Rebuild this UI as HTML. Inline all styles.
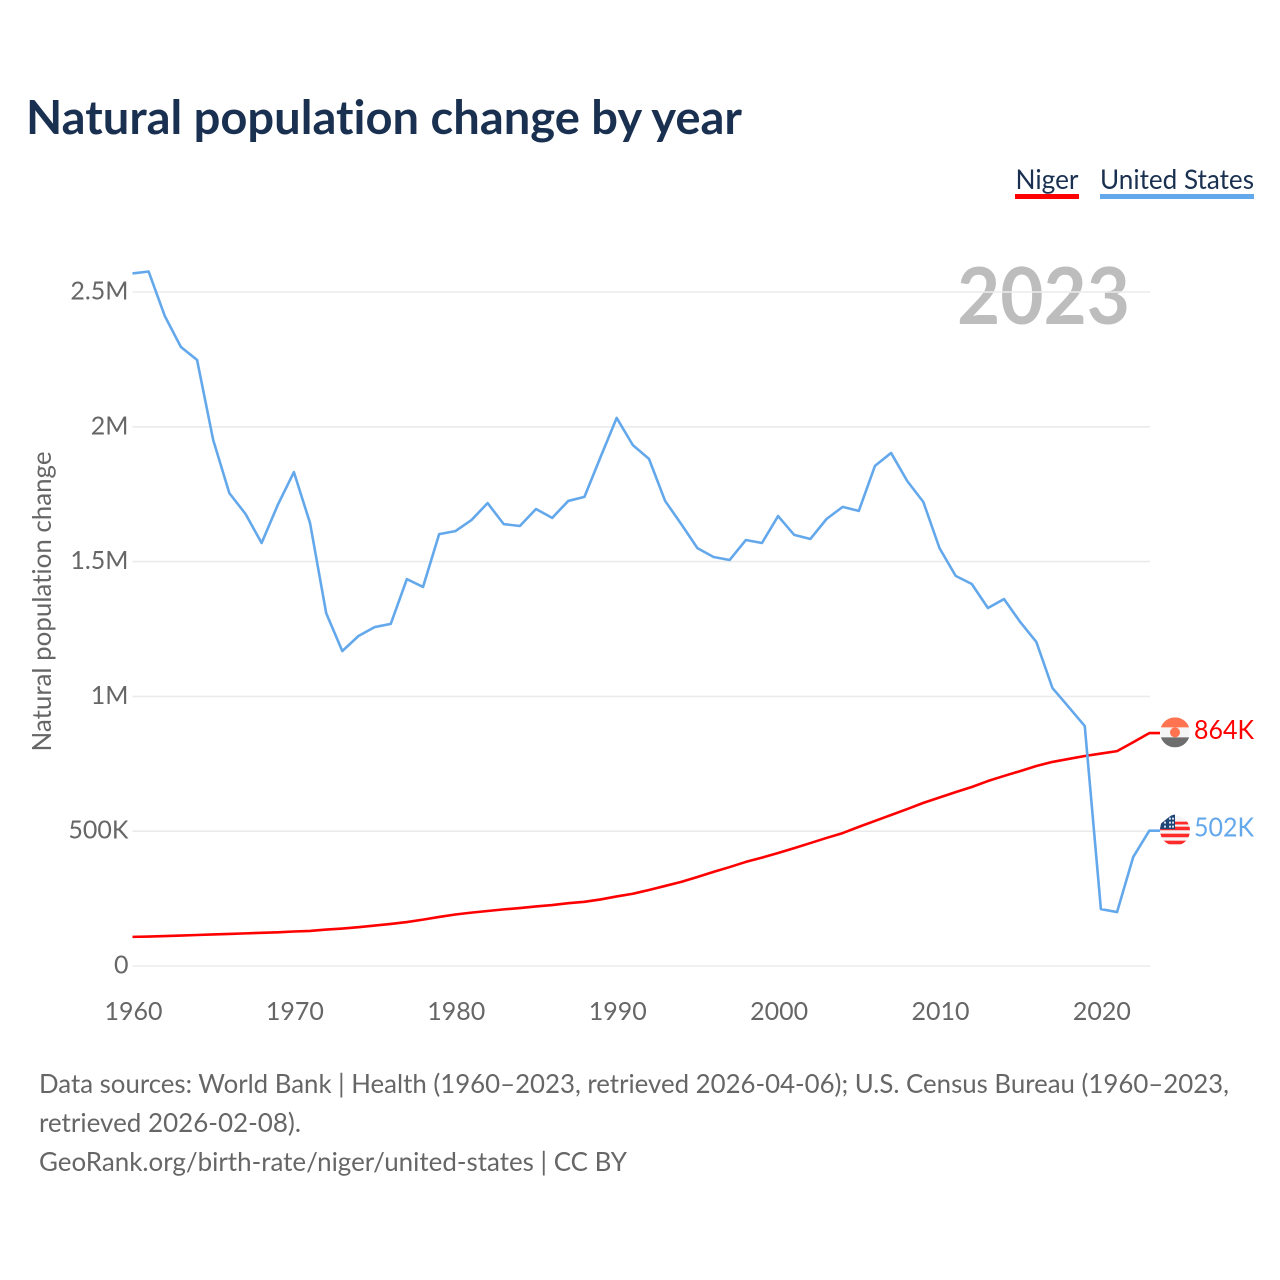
<!DOCTYPE html>
<html lang="en">
<head>
<meta charset="utf-8">
<title>Natural population change by year</title>
<style>
html,body{margin:0;padding:0;background:#fff;width:1280px;height:1280px;overflow:hidden}
svg{display:block}
text{font-family:"Lato","Carlito","Liberation Sans",sans-serif;font-variant-ligatures:none;font-feature-settings:"liga" 0}
</style>
</head>
<body>
<svg id="chart" xmlns="http://www.w3.org/2000/svg" width="1280" height="1280" viewBox="0 0 1280 1280">
  <defs>
    <clipPath id="flag-clip-niger"><circle cx="0" cy="0" r="15"/></clipPath>
    <clipPath id="flag-clip-us"><circle cx="0" cy="0" r="15"/></clipPath>
  </defs>
  <text x="26" y="134" font-size="47" font-weight="700" fill="#1a3050" textLength="716" lengthAdjust="spacingAndGlyphs">Natural population change by year</text>

  <g>
    <text x="1015.5" y="189" font-size="27" fill="#1a3050" textLength="63" lengthAdjust="spacingAndGlyphs">Niger</text>
    <rect x="1015" y="194" width="64" height="5" fill="#ff0000"/>
  </g>
  <g>
    <text x="1100" y="189" font-size="27" fill="#1a3050" textLength="154" lengthAdjust="spacingAndGlyphs">United States</text>
    <rect x="1100" y="194" width="154" height="5" fill="#64a8ec"/>
  </g>

  <text x="957" y="324" font-size="79" font-weight="700" fill="#bdbdbd" textLength="173" lengthAdjust="spacingAndGlyphs">2023</text>

  <g id="grid"></g>
  <g id="ylabels"></g>
  <g id="xlabels"></g>
  <text transform="translate(51,751.5) rotate(-90)" x="0" y="0" font-size="26" fill="#666666" textLength="300" lengthAdjust="spacingAndGlyphs">Natural population change</text>

  <polyline id="line-niger" fill="none" stroke="#ff0000" stroke-width="2.6" stroke-linejoin="round"/>
  <polyline id="line-us" fill="none" stroke="#64a8ec" stroke-width="2.6" stroke-linejoin="round"/>

  <g id="flag-niger">
    <g clip-path="url(#flag-clip-niger)">
      <rect x="-15" y="-15" width="30" height="30" fill="#f5f5f5"/>
      <rect x="-15" y="-15" width="30" height="10" fill="#ff7350"/>
      <rect x="-15" y="5" width="30" height="10" fill="#6e6e6e"/>
      <circle cx="0" cy="0" r="5" fill="#ff7350"/>
    </g>
  </g>
  <g id="flag-us">
    <g clip-path="url(#flag-clip-us)">
      <rect x="-15" y="-15" width="30" height="30" fill="#f5f5f5"/>
      <rect x="-15" y="-9" width="30" height="2.8" fill="#ff2a2a"/>
      <rect x="-15" y="-4" width="30" height="3.6" fill="#ff2a2a"/>
      <rect x="-15" y="3" width="30" height="3.6" fill="#ff2a2a"/>
      <rect x="-15" y="10" width="30" height="3.6" fill="#ff2a2a"/>
    </g>
    <path d="M-15,-1.5 L-14,-7 L-8,-12 L-4,-15 L-1,-16 L0,-16 L0,-1.5 Z" fill="#1f4577"/>
    <path d="M-11,-4 h2 M-6,-4 h2 M-3,-4 h2 M-11,-8 h2 M-6,-8 h2 M-3,-8 h2 M-6,-12 h2 M-3,-12 h2" stroke="#d5deea" stroke-width="2" fill="none"/>
  </g>
  <text id="value-niger" font-size="26" fill="#ff0000" x="1194" y="739" textLength="60" lengthAdjust="spacingAndGlyphs"></text>
  <text id="value-us" font-size="26" fill="#64a8ec" x="1194" y="836" textLength="60" lengthAdjust="spacingAndGlyphs"></text>

  <g font-size="26" fill="#666666">
    <text x="39" y="1093" textLength="1190" lengthAdjust="spacingAndGlyphs">Data sources: World Bank | Health (1960–2023, retrieved 2026-04-06); U.S. Census Bureau (1960–2023,</text>
    <text x="39" y="1132" textLength="262" lengthAdjust="spacingAndGlyphs">retrieved 2026-02-08).</text>
    <a><text x="39" y="1171" textLength="588" lengthAdjust="spacingAndGlyphs">GeoRank.org/birth-rate/niger/united-states | CC BY</text></a>
  </g>
</svg>
<script>
var firstYear = 1960;
var yTickValues = [0, 500, 1000, 1500, 2000, 2500];
var yTickLabels = ["0", "500K", "1M", "1.5M", "2M", "2.5M"];
var xTickYears = [1960, 1970, 1980, 1990, 2000, 2010, 2020];
var nigerValues = [108,109,111,113,115,117,119,121,123,125,128,130,135,139,144,150,156,163,172,182,191,198,204,210,215,221,226,233,238,247,258,268,282,297,312,330,349,367,386,402,419,437,456,475,493,516,538,560,582,605,625,645,664,686,705,723,742,757,768,779,788,797,830,864];
var usValues = [2569,2576,2411,2296,2248,1951,1754,1677,1569,1710,1832,1643,1309,1168,1224,1257,1269,1435,1406,1602,1613,1654,1717,1639,1632,1695,1662,1725,1740,1888,2033,1932,1881,1725,1639,1550,1517,1506,1580,1569,1669,1599,1584,1658,1703,1688,1855,1903,1799,1721,1550,1447,1417,1328,1361,1276,1202,1031,961,890,211,200,404,502];

var SVGNS = "http://www.w3.org/2000/svg";
function xScale(year) { return 132.5 + (year - 1960) * 16.14; }
function yScale(k) { return 966 - k * 0.2696; }

var grid = document.getElementById("grid");
var ylabels = document.getElementById("ylabels");
var xlabels = document.getElementById("xlabels");

yTickValues.forEach(function (v, i) {
  var ln = document.createElementNS(SVGNS, "line");
  
  
  ln.setAttribute("x1", 132.5);
  ln.setAttribute("x2", 1150);
  ln.setAttribute("y1", yScale(v));
  ln.setAttribute("y2", yScale(v));
  ln.setAttribute("stroke", "#ebebeb");
  ln.setAttribute("stroke-width", "1.6");
  grid.appendChild(ln);

  var t = document.createElementNS(SVGNS, "text");
  
  
  t.setAttribute("x", 128.5);
  t.setAttribute("y", yScale(v) + 7.5);
  t.setAttribute("text-anchor", "end");
  t.setAttribute("font-size", "25");
  t.setAttribute("fill", "#666666");
  t.textContent = yTickLabels[i];
  ylabels.appendChild(t);
});

xTickYears.forEach(function (yr) {
  var t = document.createElementNS(SVGNS, "text");
  
  
  t.setAttribute("x", xScale(yr) + 1);
  t.setAttribute("y", 1020);
  t.setAttribute("text-anchor", "middle");
  t.setAttribute("font-size", "25");
  t.setAttribute("fill", "#666666");
  t.textContent = String(yr);
  xlabels.appendChild(t);
});

function linePoints(values) {
  var pts = values.map(function (v, i) {
    return xScale(firstYear + i).toFixed(2) + "," + yScale(v).toFixed(2);
  });
  var last = values[values.length - 1];
  pts.push("1160," + yScale(last).toFixed(2));
  return pts.join(" ");
}
function formatK(v) { return Math.round(v) + "K"; }

document.getElementById("line-niger").setAttribute("points", linePoints(nigerValues));
document.getElementById("line-us").setAttribute("points", linePoints(usValues));

var nigerLast = nigerValues[nigerValues.length - 1];
var usLast = usValues[usValues.length - 1];
document.getElementById("flag-niger").setAttribute("transform", "translate(1175," + (yScale(nigerLast) - 0.7) + ")");
document.getElementById("flag-us").setAttribute("transform", "translate(1175," + yScale(usLast) + ")");
var vn = document.getElementById("value-niger");
vn.textContent = formatK(nigerLast);
vn.setAttribute("y", yScale(nigerLast) + 6);
var vu = document.getElementById("value-us");
vu.textContent = formatK(usLast);
vu.setAttribute("y", yScale(usLast) + 6);
</script>
</body>
</html>
